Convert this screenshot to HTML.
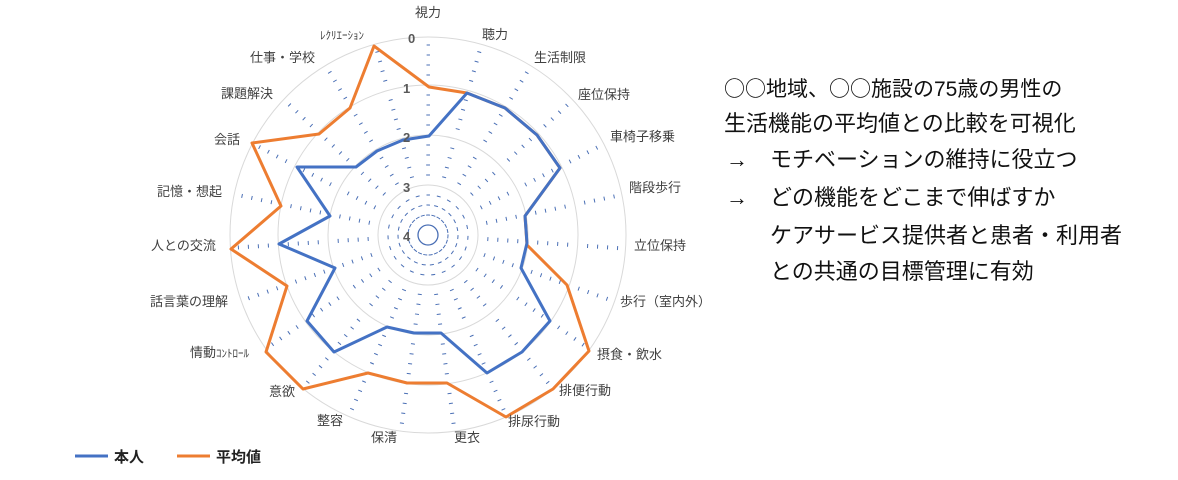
<!DOCTYPE html>
<html><head><meta charset="utf-8"><style>
body{margin:0;background:#fff;width:1178px;height:480px;overflow:hidden;font-family:"Liberation Sans","Noto Sans CJK JP",sans-serif;}
.t{position:absolute;font-size:22px;line-height:26px;color:#111;white-space:nowrap;}
</style></head><body>
<svg width="1178" height="480" style="position:absolute;left:0;top:0" font-family="Liberation Sans, Noto Sans CJK JP, sans-serif">
<g fill="none">
<circle cx="428" cy="235" r="50" stroke="#d9d9d9"/>
<circle cx="428" cy="235" r="100" stroke="#d9d9d9"/>
<circle cx="428" cy="235" r="150" stroke="#d9d9d9"/>
<circle cx="428" cy="235" r="198" stroke="#d9d9d9"/>
<g stroke="#4a6fb5" stroke-width="1" stroke-dashoffset="2" transform="rotate(-90 428 235)">
<circle cx="428" cy="235" r="20" stroke-dasharray="4 1.46"/><circle cx="428" cy="235" r="30" stroke-dasharray="4 4.2"/><circle cx="428" cy="235" r="40" stroke-dasharray="4 6.93"/>
<circle cx="428" cy="235" r="60" stroke-dasharray="4 12.39"/><circle cx="428" cy="235" r="70" stroke-dasharray="4 15.12"/><circle cx="428" cy="235" r="80" stroke-dasharray="4 17.86"/><circle cx="428" cy="235" r="90" stroke-dasharray="4 20.59"/>
<circle cx="428" cy="235" r="110" stroke-dasharray="4 26.05"/><circle cx="428" cy="235" r="120" stroke-dasharray="4 28.78"/><circle cx="428" cy="235" r="130" stroke-dasharray="4 31.52"/><circle cx="428" cy="235" r="140" stroke-dasharray="4 34.25"/>
<circle cx="428" cy="235" r="160" stroke-dasharray="4 39.71"/><circle cx="428" cy="235" r="170" stroke-dasharray="4 42.44"/><circle cx="428" cy="235" r="180" stroke-dasharray="4 45.18"/><circle cx="428" cy="235" r="190" stroke-dasharray="4 47.91"/>
</g>
<circle cx="428" cy="235" r="10" stroke="#4a6fb5" stroke-width="1.3"/>
<polygon stroke="#ed7d31" stroke-width="3" stroke-linejoin="round" points="429,87 467,93 505,108 537,135 560,168 525,216 527,245 567,285 589,351 553,389 506,417 447,383 407,383 368,373 303,389 266,352 287,286 231,249 281,206 252,143 319,134 350,108 374,46"/>
<polygon stroke="#4472c4" stroke-width="3" stroke-linejoin="round" points="429,136 467,93 505,108 537,135 560,168 525,216 527,243 521,268 550,321 522,352 487,373 441,333 414,333 387,327 334,352 307,321 335,268 279,244 330,216 297,167 356,167 377,151 403,140"/>
</g>
<g font-size="13" font-weight="bold" fill="#595959">
<text x="408" y="43">0</text><text x="403" y="93">1</text><text x="403" y="142">2</text><text x="403" y="192">3</text><text x="403" y="241">4</text>
</g>
<g font-size="13" fill="#404040">
<text x="428" y="17" text-anchor="middle">視力</text>
<text x="482" y="39">聴力</text>
<text x="534" y="62">生活制限</text>
<text x="578" y="99">座位保持</text>
<text x="610" y="141">車椅子移乗</text>
<text x="629" y="192">階段歩行</text>
<text x="634" y="250">立位保持</text>
<text x="620" y="306">歩行（室内外）</text>
<text x="597" y="359">摂食・飲水</text>
<text x="559" y="395">排便行動</text>
<text x="508" y="426">排尿行動</text>
<text x="454" y="442">更衣</text>
<text x="371" y="442">保清</text>
<text x="317" y="425">整容</text>
<text x="269" y="396">意欲</text>
<text x="190" y="357">情動<tspan font-size="11">ｺﾝﾄﾛｰﾙ</tspan></text>
<text x="150" y="306">話言葉の理解</text>
<text x="151" y="250">人との交流</text>
<text x="157" y="196">記憶・想起</text>
<text x="214" y="144">会話</text>
<text x="221" y="98">課題解決</text>
<text x="250" y="62">仕事・学校</text>
<text x="320" y="39" font-size="11">ﾚｸﾘｴｰｼｮﾝ</text>
</g>
<line x1="75" y1="456" x2="108" y2="456" stroke="#4472c4" stroke-width="3"/>
<text x="114" y="462" font-size="15" font-weight="bold" fill="#222">本人</text>
<line x1="177" y1="456" x2="210" y2="456" stroke="#ed7d31" stroke-width="3"/>
<text x="216" y="462" font-size="15" font-weight="bold" fill="#222">平均値</text>
</svg>
<div class="t" style="left:724px;top:75px;font-size:21px"><span style="font-family:'Noto Sans CJK JP',sans-serif">○○</span>地域、<span style="font-family:'Noto Sans CJK JP',sans-serif">○○</span>施設の75歳の男性の</div>
<div class="t" style="left:724px;top:111px">生活機能の平均値との比較を可視化</div>
<div class="t" style="left:726px;top:147px">→</div><div class="t" style="left:770px;top:147px">モチベーションの維持に役立つ</div>
<div class="t" style="left:726px;top:185px">→</div><div class="t" style="left:770px;top:185px">どの機能をどこまで伸ばすか</div>
<div class="t" style="left:770px;top:223px">ケアサービス提供者と患者・利用者</div>
<div class="t" style="left:770px;top:259px">との共通の目標管理に有効</div>
</body></html>
